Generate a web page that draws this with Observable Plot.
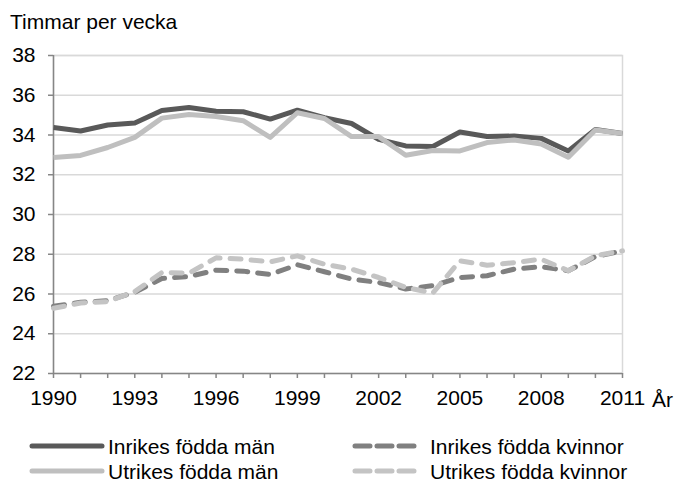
<!DOCTYPE html>
<html><head><meta charset="utf-8">
<script src="https://cdn.jsdelivr.net/npm/d3@7"></script>
<script src="https://cdn.jsdelivr.net/npm/@observablehq/plot@0.6"></script>
<style>
body{margin:0;background:#fff;font-family:"Liberation Sans",Arial,sans-serif;}
#wrap{position:relative;width:678px;height:482px;overflow:hidden;background:#fff;}
#wrap > svg{position:absolute;left:0;top:0;}
</style></head><body><div id="wrap"></div>
<script>
const years = [1990,1991,1992,1993,1994,1995,1996,1997,1998,1999,2000,2001,2002,2003,2004,2005,2006,2007,2008,2009,2010,2011];
const xTickLabels = [1990,1993,1996,1999,2002,2005,2008,2011];
const yTicks = [22,24,26,28,30,32,34,36,38];
const seriesNames = ["Inrikes födda män","Utrikes födda män","Inrikes födda kvinnor","Utrikes födda kvinnor"];
const inrikesMan =      [34.38,34.20,34.50,34.60,35.23,35.38,35.20,35.17,34.80,35.25,34.87,34.58,33.78,33.45,33.42,34.15,33.92,33.95,33.83,33.20,34.28,34.08];
const utrikesMan =      [32.87,32.97,33.37,33.88,34.85,35.03,34.93,34.72,33.88,35.12,34.83,33.92,33.92,32.98,33.22,33.20,33.62,33.75,33.55,32.88,34.25,34.08];
const inrikesKvinnor =  [25.38,25.58,25.67,26.08,26.78,26.88,27.20,27.15,26.98,27.47,27.12,26.75,26.58,26.25,26.42,26.83,26.92,27.25,27.37,27.17,27.88,28.17];
const utrikesKvinnor =  [25.28,25.55,25.62,26.12,27.08,27.05,27.82,27.75,27.62,27.92,27.50,27.25,26.83,26.33,26.05,27.67,27.45,27.58,27.75,27.17,27.92,28.17];
const seriesValues = [inrikesMan, utrikesMan, inrikesKvinnor, utrikesKvinnor];
const seriesColors = ["#595959","#bfbfbf","#808080","#c4c4c4"];
const seriesDashed = [false,false,true,true];
const titleText = "Timmar per vecka";
const xAxisLabel = "År";

const font = '"Liberation Sans", Arial, sans-serif';
const data = [];
seriesNames.forEach((name,i)=>seriesValues[i].forEach((v,j)=>data.push({series:name,year:years[j],value:v})));

const lineMarks = seriesNames.map((name,i)=>Plot.line(data.filter(d=>d.series===name),{
  x:"year", y:"value", stroke:seriesColors[i], strokeWidth:5,
  strokeLinejoin:"round",
  strokeLinecap: seriesDashed[i] ? "round" : "butt",
  strokeDasharray: seriesDashed[i] ? "11,10" : null
}));

const chart = Plot.plot({
  width:678, height:420,
  marginLeft:53, marginRight:56, marginTop:55, marginBottom:47,
  x:{domain:[years[0],years[years.length-1]]},
  y:{domain:[yTicks[0],yTicks[yTicks.length-1]]},
  style:{fontFamily:font, fontSize:"21px", color:"#000", background:"transparent"},
  marks:[
    Plot.gridY(yTicks.slice(1),{stroke:"#d9d9d9",strokeOpacity:1,strokeWidth:1.5}),
    Plot.frame({stroke:"#d9d9d9",strokeWidth:1.5}),
    Plot.ruleX([years[0]],{stroke:"#868686",strokeWidth:1.5}),
    Plot.ruleY([yTicks[0]],{stroke:"#868686",strokeWidth:1.5}),
    ...lineMarks,
    Plot.axisY(yTicks,{tickSize:5,tickPadding:13,stroke:"#868686",strokeWidth:1.5,label:null,tickFormat:d=>String(d),fill:"#000"}),
    Plot.axisX(years,{tickSize:5,tickPadding:12,stroke:"#868686",strokeWidth:1.5,label:null,tickFormat:d=>xTickLabels.includes(d)?String(d):"",fill:"#000"})
  ]
});
const wrap = document.getElementById("wrap");
wrap.appendChild(chart);

// overlay: title, axis label, legend
const ov = d3.create("svg").attr("width",678).attr("height",482)
  .style("font-family",font).style("font-size","21px");
ov.append("text").attr("x",10).attr("y",29).text(titleText);
ov.append("text").attr("x",652).attr("y",407).text(xAxisLabel);
const legendPos = [
  {lx1:32,lx2:102,tx:108,y:446},
  {lx1:32,lx2:102,tx:108,y:471},
  {lx1:355,lx2:416,tx:430,y:446},
  {lx1:355,lx2:416,tx:430,y:471}
];
seriesNames.forEach((name,i)=>{
  const p = legendPos[i];
  ov.append("line").attr("x1",p.lx1).attr("x2",p.lx2).attr("y1",p.y).attr("y2",p.y)
    .attr("stroke",seriesColors[i]).attr("stroke-width",5).attr("stroke-linecap","round")
    .attr("stroke-dasharray",seriesDashed[i]?"15,7":null);
  ov.append("text").attr("x",p.tx).attr("y",p.y+7.5).text(name);
});
wrap.appendChild(ov.node());
</script></body></html>
